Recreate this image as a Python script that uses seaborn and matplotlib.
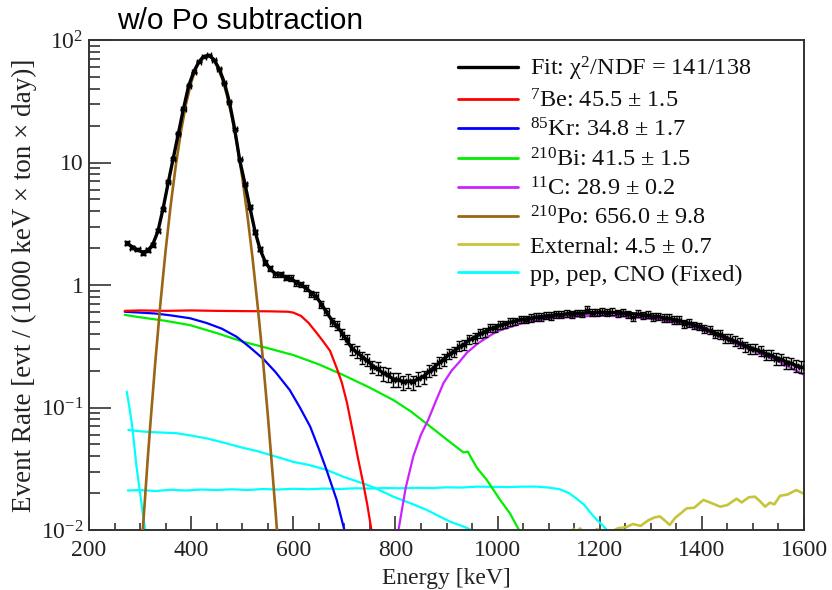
import numpy as np
import pandas as pd
import matplotlib
matplotlib.use("Agg")
import matplotlib.pyplot as plt
from matplotlib.lines import Line2D
from matplotlib.ticker import FixedLocator, MultipleLocator, LogLocator, NullFormatter
import seaborn as sns

# ---------------- data ----------------
energy = [275, 285, 295, 305, 315, 325, 335, 345, 355, 365,
          375, 385, 395, 405, 415, 425, 435, 445, 455, 465,
          475, 485, 495, 505, 515, 525, 535, 545, 555, 565,
          575, 585, 595, 605, 615, 625, 635, 645, 655, 665,
          675, 685, 695, 705, 715, 725, 735, 745, 755, 765,
          775, 785, 795, 805, 815, 825, 835, 845, 855, 865,
          875, 885, 895, 905, 915, 925, 935, 945, 955, 965,
          975, 985, 995, 1005, 1015, 1025, 1035, 1045, 1055, 1065,
          1075, 1085, 1095, 1105, 1115, 1125, 1135, 1145, 1155, 1165,
          1175, 1185, 1195, 1205, 1215, 1225, 1235, 1245, 1255, 1265,
          1275, 1285, 1295, 1305, 1315, 1325, 1335, 1345, 1355, 1365,
          1375, 1385, 1395, 1405, 1415, 1425, 1435, 1445, 1455, 1465,
          1475, 1485, 1495, 1505, 1515, 1525, 1535, 1545, 1555, 1565,
          1575, 1585, 1595]

fit_total = [2.18, 2.05, 1.93, 1.86, 1.90, 2.15, 2.75, 4.2, 6.8, 10.8,
             17.0, 27.5, 42.0, 55.0, 66.0, 73.5, 75.0, 69.0, 58.0, 45.0,
             31.0, 19.0, 10.5, 6.8, 4.3, 2.75, 1.95, 1.55, 1.34, 1.24,
             1.20, 1.17, 1.12, 1.06, 1.00, 0.94, 0.87, 0.80, 0.70, 0.60,
             0.52, 0.46, 0.41, 0.35, 0.305, 0.28, 0.26, 0.24, 0.22, 0.205,
             0.193, 0.182, 0.172, 0.167, 0.164, 0.163, 0.165, 0.17, 0.18, 0.195,
             0.212, 0.23, 0.25, 0.27, 0.29, 0.31, 0.33, 0.355, 0.375, 0.395,
             0.415, 0.435, 0.452, 0.468, 0.482, 0.495, 0.507, 0.518, 0.528, 0.537,
             0.545, 0.552, 0.558, 0.564, 0.569, 0.574, 0.578, 0.582, 0.586, 0.589,
             0.592, 0.595, 0.597, 0.598, 0.598, 0.597, 0.595, 0.592, 0.588, 0.583,
             0.577, 0.570, 0.563, 0.556, 0.549, 0.541, 0.532, 0.522, 0.511, 0.499,
             0.486, 0.472, 0.457, 0.441, 0.425, 0.408, 0.391, 0.375, 0.360, 0.346,
             0.333, 0.320, 0.308, 0.297, 0.286, 0.276, 0.266, 0.256, 0.246, 0.237,
             0.228, 0.220, 0.213]

data_rate = [2.22, 2.02, 1.95, 1.83, 1.92, 2.13, 2.78, 4.15, 6.9, 10.7,
             17.2, 27.3, 42.3, 54.6, 66.4, 73.1, 75.4, 68.7, 58.3, 44.6,
             31.3, 18.8, 10.6, 6.7, 4.35, 2.72, 1.98, 1.52, 1.37, 1.22,
             1.22, 1.15, 1.14, 1.04, 1.01, 0.95, 0.85, 0.82, 0.69, 0.61,
             0.50, 0.47, 0.40, 0.36, 0.30, 0.285, 0.255, 0.245, 0.215, 0.21,
             0.19, 0.186, 0.168, 0.17, 0.16, 0.166, 0.161, 0.173, 0.177, 0.199,
             0.208, 0.235, 0.245, 0.275, 0.285, 0.318, 0.325, 0.362, 0.37, 0.405,
             0.41, 0.445, 0.448, 0.475, 0.478, 0.50, 0.505, 0.525, 0.522, 0.54,
             0.55, 0.548, 0.562, 0.56, 0.575, 0.571, 0.59, 0.576, 0.592, 0.585,
             0.63, 0.593, 0.601, 0.605, 0.594, 0.607, 0.588, 0.595, 0.58, 0.55,
             0.584, 0.566, 0.572, 0.55, 0.556, 0.538, 0.54, 0.518, 0.52, 0.48,
             0.49, 0.468, 0.46, 0.436, 0.43, 0.40, 0.395, 0.37, 0.365, 0.35,
             0.338, 0.315, 0.30, 0.302, 0.29, 0.27, 0.27, 0.25, 0.249, 0.232,
             0.23, 0.218, 0.215]

data_err = [0.08, 0.07, 0.07, 0.07, 0.07, 0.08, 0.09, 0.10, 0.13, 0.17,
            0.20, 0.26, 0.33, 0.37, 0.41, 0.43, 0.44, 0.42, 0.39, 0.34,
            0.28, 0.22, 0.17, 0.13, 0.11, 0.09, 0.07, 0.07, 0.06, 0.06,
            0.06, 0.06, 0.06, 0.05, 0.05, 0.05, 0.05, 0.05, 0.045, 0.04,
            0.04, 0.04, 0.035, 0.033, 0.03, 0.03, 0.028, 0.027, 0.025, 0.025,
            0.024, 0.023, 0.022, 0.022, 0.021, 0.021, 0.021, 0.022, 0.022, 0.023,
            0.024, 0.025, 0.026, 0.027, 0.028, 0.03, 0.03, 0.031, 0.032, 0.033,
            0.033, 0.034, 0.034, 0.035, 0.035, 0.036, 0.036, 0.037, 0.037, 0.037,
            0.038, 0.038, 0.038, 0.038, 0.038, 0.038, 0.038, 0.038, 0.038, 0.038,
            0.040, 0.039, 0.039, 0.039, 0.039, 0.039, 0.039, 0.039, 0.038, 0.038,
            0.038, 0.038, 0.038, 0.037, 0.037, 0.037, 0.037, 0.036, 0.036, 0.035,
            0.035, 0.034, 0.034, 0.033, 0.033, 0.032, 0.032, 0.031, 0.030, 0.030,
            0.030, 0.029, 0.028, 0.028, 0.028, 0.027, 0.027, 0.026, 0.026, 0.025,
            0.025, 0.024, 0.024]

be7_x = [270, 300, 350, 400, 450, 500, 550, 590, 600, 615, 630, 645, 660, 672,
         685, 695, 705, 717, 727, 737, 745, 753, 760]
be7_y = [0.615, 0.62, 0.615, 0.62, 0.615, 0.612, 0.61, 0.605, 0.595, 0.56, 0.49,
         0.41, 0.34, 0.29, 0.21, 0.16, 0.11, 0.062, 0.038, 0.024, 0.016, 0.010, 0.006]

kr85_x = [270, 300, 330, 360, 398, 430, 460, 489, 515, 541, 565, 593, 613, 633,
          650, 665, 685, 700, 705]
kr85_y = [0.605, 0.595, 0.585, 0.565, 0.535, 0.49, 0.44, 0.378, 0.31, 0.25,
          0.195, 0.139, 0.10, 0.07, 0.046, 0.031, 0.0176, 0.010, 0.008]

bi210_x = [270, 300, 350, 398, 450, 502, 550, 600, 650, 698, 750, 796, 830, 868,
           900, 933, 942, 948, 960, 979, 1005, 1024, 1042, 1050]
bi210_y = [0.57, 0.545, 0.51, 0.47, 0.405, 0.344, 0.305, 0.268, 0.225, 0.184,
           0.145, 0.115, 0.093, 0.07, 0.055, 0.043, 0.0435, 0.039, 0.032, 0.0256,
           0.0176, 0.0137, 0.010, 0.008]

c11_x = [800, 806, 820, 835, 850, 864, 880, 894, 910, 925, 940, 960, 980, 1000,
         1018, 1050, 1083, 1115, 1148, 1180, 1214, 1245, 1279, 1310, 1344, 1375,
         1409, 1440, 1475, 1505, 1540, 1570, 1600]
c11_y = [0.007, 0.010, 0.022, 0.040, 0.060, 0.079, 0.115, 0.158, 0.20, 0.235,
         0.28, 0.33, 0.375, 0.42, 0.445, 0.49, 0.52, 0.54, 0.55, 0.558, 0.56,
         0.555, 0.54, 0.525, 0.50, 0.465, 0.42, 0.37, 0.32, 0.285, 0.25, 0.215, 0.185]

po210_x = [300, 305, 310, 315, 320, 330, 340, 350, 360, 370, 380, 390, 400, 410,
           420, 430, 440, 450, 460, 470, 480, 490, 500, 510, 520, 530, 540, 550,
           560, 565, 570]
po210_y = [0.0046, 0.0095, 0.019, 0.038, 0.072, 0.24, 0.72, 1.91, 4.5, 9.5, 17.9,
           30.1, 45.0, 60.0, 71.0, 74.0, 72.0, 62.0, 49.5, 35.6, 23.4, 14.0, 7.6,
           3.75, 1.69, 0.69, 0.26, 0.088, 0.027, 0.0147, 0.0077]

ext_x = [1140, 1148, 1155, 1162, 1170, 1185, 1195, 1205, 1225, 1235, 1253, 1265,
         1280, 1295, 1308, 1318, 1328, 1337, 1348, 1357, 1370, 1385, 1403, 1420,
         1436, 1450, 1468, 1478, 1492, 1504, 1515, 1524, 1533, 1542, 1553, 1568,
         1585, 1598]
ext_y = [0.009, 0.0102, 0.0098, 0.0103, 0.009, 0.0095, 0.0102, 0.0095, 0.0098,
         0.0103, 0.0106, 0.0112, 0.0108, 0.012, 0.0127, 0.0129, 0.0119, 0.011,
         0.0126, 0.0135, 0.015, 0.0152, 0.0176, 0.0165, 0.0155, 0.016, 0.018,
         0.0168, 0.0185, 0.0187, 0.017, 0.0155, 0.0167, 0.0162, 0.019, 0.0195,
         0.0212, 0.0199]

pp_x = [274, 280, 285, 293, 300, 305, 310, 313]
pp_y = [0.135, 0.095, 0.068, 0.033, 0.020, 0.014, 0.010, 0.008]

cno_x = [277, 300, 320, 340, 371, 400, 430, 469, 500, 530, 567, 600, 630, 665,
         700, 737, 760, 796, 830, 861, 885, 907, 930, 949, 955]
cno_y = [0.0655, 0.064, 0.063, 0.0625, 0.0617, 0.059, 0.056, 0.051, 0.047, 0.044,
         0.0396, 0.036, 0.034, 0.031, 0.027, 0.024, 0.022, 0.0187, 0.0165, 0.0146,
         0.013, 0.0117, 0.0108, 0.010, 0.0095]

pep_x = [276, 300, 330, 360, 390, 420, 450, 480, 510, 540, 570, 600, 630, 660,
         690, 720, 750, 780, 810, 840, 870, 900, 930, 960, 990, 1020, 1050, 1076,
         1100, 1122, 1140, 1155, 1170, 1181, 1195, 1205, 1214, 1220]
pep_y = [0.021, 0.0212, 0.0208, 0.0213, 0.021, 0.0214, 0.0212, 0.0215, 0.0212,
         0.0216, 0.0214, 0.0217, 0.0215, 0.0218, 0.0216, 0.0219, 0.0218, 0.022,
         0.0219, 0.0221, 0.022, 0.0223, 0.0222, 0.0226, 0.0225, 0.0224, 0.0226,
         0.0226, 0.0222, 0.0215, 0.020, 0.018, 0.016, 0.014, 0.012, 0.011, 0.010, 0.009]

legend_labels = [
    "Fit: χ$^{2}$/NDF = 141/138",
    "$^{7}$Be: 45.5 ± 1.5",
    "$^{85}$Kr: 34.8 ± 1.7",
    "$^{210}$Bi: 41.5 ± 1.5",
    "$^{11}$C: 28.9 ± 0.2",
    "$^{210}$Po: 656.0 ± 9.8",
    "External: 4.5 ± 0.7",
    "pp, pep, CNO (Fixed)",
]

# ---------------- style ----------------
sns.set_theme(style="ticks")
plt.rcParams["font.family"] = ["Liberation Serif", "DejaVu Serif"]
plt.rcParams["mathtext.fontset"] = "custom"
plt.rcParams["mathtext.rm"] = "Liberation Serif"
plt.rcParams["mathtext.it"] = "Liberation Serif:italic"
plt.rcParams["mathtext.default"] = "regular"

C_FIT = "#000000"
C_BE = "#ff0000"
C_KR = "#0000ff"
C_BI = "#00ee00"
C_C = "#cc22ff"
C_PO = "#9a6514"
C_EXT = "#c8c43a"
C_NU = "#00ffff"

fig = plt.figure(figsize=(8.32, 5.90), dpi=100)
ax = fig.add_axes([89 / 832, 60 / 590, (804 - 89) / 832, (530 - 40) / 590])

lw = 1.6

def curve(x, y, color, width=lw, z=2):
    df = pd.DataFrame({"E": x, "R": y})
    sns.lineplot(data=df, x="E", y="R", ax=ax, color=color, linewidth=width,
                 estimator=None, sort=False, legend=False, zorder=z)

curve(pp_x, pp_y, C_NU)
curve(cno_x, cno_y, C_NU)
curve(pep_x, pep_y, C_NU)
curve(ext_x, ext_y, C_EXT, width=1.9)
curve(bi210_x, bi210_y, C_BI)
curve(kr85_x, kr85_y, C_KR)
curve(be7_x, be7_y, C_BE)
curve(c11_x, c11_y, C_C)
curve(po210_x, po210_y, C_PO, width=1.9, z=3)
curve(energy, fit_total, C_FIT, width=2.4, z=4)

ax.errorbar(energy, data_rate, yerr=data_err, xerr=4, fmt="none", ecolor="black",
            elinewidth=1.0, capsize=2, capthick=1.0, zorder=5)
ax.plot(energy, data_rate, ls="none", marker="s", ms=1.6, color="black", zorder=5)

ax.set_yscale("log")
ax.set_xlim(200, 1600)
ax.set_ylim(1e-2, 1e2)

ax.xaxis.set_major_locator(MultipleLocator(200))
ax.xaxis.set_minor_locator(MultipleLocator(50))
ax.yaxis.set_major_locator(FixedLocator([1e-2, 1e-1, 1, 10, 100]))
ax.yaxis.set_minor_locator(LogLocator(base=10, subs=np.arange(2, 10)))
ax.yaxis.set_minor_formatter(NullFormatter())
ax.set_yticklabels(["10$^{-2}$", "10$^{-1}$", "1", "10", "10$^{2}$"])

ax.tick_params(axis="x", which="major", direction="in", length=10, width=1.1,
               labelsize=17, pad=7, top=False, colors="#222222", labelcolor="#222222")
ax.tick_params(axis="x", which="minor", direction="in", length=5, width=1.1, top=False,
               colors="#222222")
ax.tick_params(axis="y", which="major", direction="in", length=16, width=1.1,
               labelsize=17, pad=4, right=False, colors="#222222", labelcolor="#222222")
ax.tick_params(axis="y", which="minor", direction="in", length=8, width=1.1, right=False,
               colors="#222222")

for s in ax.spines.values():
    s.set_visible(True)
    s.set_linewidth(1.4)
    s.set_color("#333333")

ax.set_xlabel("Energy [keV]", fontsize=17, color="#222222", labelpad=5)
ax.set_ylabel("Event Rate [evt / (1000 keV × ton × day)]", fontsize=19.5,
              color="#222222", labelpad=3)

fig.text(117 / 832, 1 - 21 / 590, "w/o Po subtraction", ha="left", va="center",
         fontsize=21.5, family=["Liberation Sans", "DejaVu Sans"], color="black")

colors = [C_FIT, C_BE, C_KR, C_BI, C_C, C_PO, C_EXT, C_NU]
widths = [2.4, 2.0, 2.0, 2.0, 2.0, 2.0, 2.0, 2.0]
handles = [Line2D([0], [0], color=c, lw=w) for c, w in zip(colors, widths)]
leg = ax.legend(handles, legend_labels, loc="upper left",
                bbox_to_anchor=(458 / 832, 1 - 55 / 590), bbox_transform=fig.transFigure,
                frameon=False, fontsize=17.5, handlelength=2.45, handletextpad=0.5,
                labelspacing=0.25, borderpad=0, borderaxespad=0)
for t in leg.get_texts():
    t.set_color("#111111")

fig.savefig("out.png", dpi=100)
